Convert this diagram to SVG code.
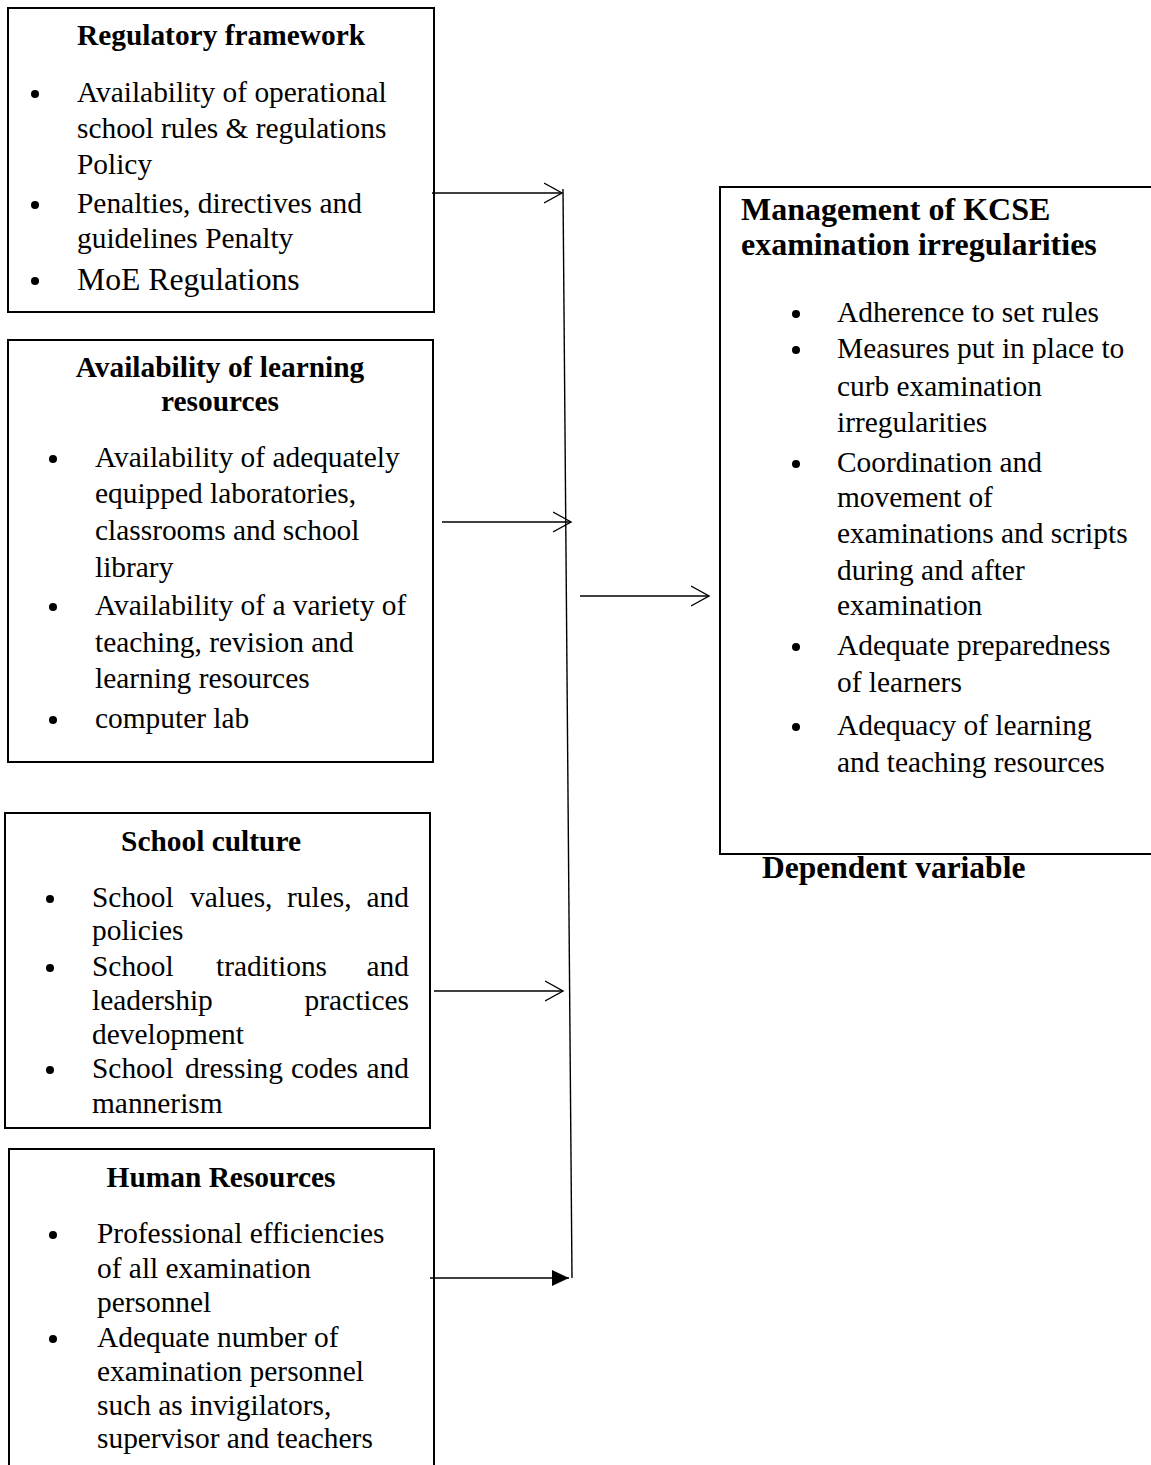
<svg xmlns="http://www.w3.org/2000/svg" width="1151" height="1465" viewBox="0 0 1151 1465">
<style>
.box{fill:#fff;stroke:#000;stroke-width:2}
.t{font-family:"Liberation Serif","Times New Roman",serif;font-size:29.4px;fill:#000}
.h{font-family:"Liberation Serif","Times New Roman",serif;font-size:29.4px;font-weight:bold;fill:#000}
.hb{font-family:"Liberation Serif","Times New Roman",serif;font-size:32px;font-weight:bold;fill:#000}
.c{text-anchor:middle}
.e{text-anchor:end}
.b{fill:#000}
.ln{stroke:#000;stroke-width:1.4;fill:none}
</style>
<defs>
<marker id="open" markerWidth="20" markerHeight="22" refX="18" refY="11" orient="auto" markerUnits="userSpaceOnUse">
<path d="M0,1 L18,11 L0,21" fill="none" stroke="#000" stroke-width="1.4"/>
</marker>
<marker id="solid" markerWidth="18" markerHeight="16" refX="17" refY="8" orient="auto" markerUnits="userSpaceOnUse">
<path d="M0,0 L17,8 L0,16 Z" fill="#000"/>
</marker>
</defs>
<rect width="1151" height="1465" fill="#fff"/>

<g id="regulatory-framework">
<rect class="box" x="8" y="8" width="426" height="304"/>
<text class="h c" x="221" y="45">Regulatory framework</text>
<circle class="b" cx="35" cy="94" r="4"/>
<text class="t" x="77" y="102">Availability of operational</text>
<text class="t" x="77" y="138">school rules &amp; regulations</text>
<text class="t" x="77" y="174">Policy</text>
<circle class="b" cx="35" cy="205" r="4"/>
<text class="t" x="77" y="213">Penalties, directives and</text>
<text class="t" x="77" y="248">guidelines Penalty</text>
<circle class="b" cx="35" cy="281" r="4"/>
<text class="t" x="77" y="290" style="font-size:31.7px">MoE Regulations</text>
</g>

<g id="learning-resources">
<rect class="box" x="8" y="340" width="425" height="422"/>
<text class="h c" x="220" y="377">Availability of learning</text>
<text class="h c" x="220" y="411">resources</text>
<circle class="b" cx="53" cy="459" r="4"/>
<text class="t" x="95" y="467">Availability of adequately</text>
<text class="t" x="95" y="503">equipped laboratories,</text>
<text class="t" x="95" y="540">classrooms and school</text>
<text class="t" x="95" y="577">library</text>
<circle class="b" cx="53" cy="607" r="4"/>
<text class="t" x="95" y="615">Availability of a variety of</text>
<text class="t" x="95" y="652">teaching, revision and</text>
<text class="t" x="95" y="688">learning resources</text>
<circle class="b" cx="53" cy="720" r="4"/>
<text class="t" x="95" y="728">computer lab</text>
</g>

<g id="school-culture">
<rect class="box" x="5" y="813" width="425" height="315"/>
<text class="h c" x="211" y="851">School culture</text>
<circle class="b" cx="50" cy="899" r="4"/>
<text class="t" x="92" y="907">School</text>
<text class="t" x="190" y="907">values,</text>
<text class="t" x="287" y="907">rules,</text>
<text class="t e" x="409" y="907">and</text>
<text class="t" x="92" y="940">policies</text>
<circle class="b" cx="50" cy="968" r="4"/>
<text class="t" x="92" y="976">School</text>
<text class="t" x="216" y="976">traditions</text>
<text class="t e" x="409" y="976">and</text>
<text class="t" x="92" y="1010">leadership</text>
<text class="t e" x="409" y="1010">practices</text>
<text class="t" x="92" y="1044">development</text>
<circle class="b" cx="50" cy="1070" r="4"/>
<text class="t" x="92" y="1078">School</text>
<text class="t" x="185" y="1078">dressing</text>
<text class="t" x="291" y="1078">codes</text>
<text class="t e" x="409" y="1078">and</text>
<text class="t" x="92" y="1113">mannerism</text>
</g>

<g id="human-resources">
<rect class="box" x="9" y="1149" width="425" height="330"/>
<text class="h c" x="221" y="1187">Human Resources</text>
<circle class="b" cx="53" cy="1235" r="4"/>
<text class="t" x="97" y="1243">Professional efficiencies</text>
<text class="t" x="97" y="1278">of all examination</text>
<text class="t" x="97" y="1312">personnel</text>
<circle class="b" cx="53" cy="1339" r="4"/>
<text class="t" x="97" y="1347">Adequate number of</text>
<text class="t" x="97" y="1381">examination personnel</text>
<text class="t" x="97" y="1415">such as invigilators,</text>
<text class="t" x="97" y="1448">supervisor and teachers</text>
</g>

<g id="management-kcse">
<rect class="box" x="720" y="187" width="440" height="667"/>
<text class="hb" x="741" y="220">Management of KCSE</text>
<text class="hb" x="741" y="255">examination irregularities</text>
<circle class="b" cx="796" cy="314" r="4"/>
<text class="t" x="837" y="322">Adherence to set rules</text>
<circle class="b" cx="796" cy="350" r="4"/>
<text class="t" x="837" y="358">Measures put in place to</text>
<text class="t" x="837" y="396">curb examination</text>
<text class="t" x="837" y="432">irregularities</text>
<circle class="b" cx="796" cy="464" r="4"/>
<text class="t" x="837" y="472">Coordination and</text>
<text class="t" x="837" y="507">movement of</text>
<text class="t" x="837" y="543">examinations and scripts</text>
<text class="t" x="837" y="580">during and after</text>
<text class="t" x="837" y="615">examination</text>
<circle class="b" cx="796" cy="647" r="4"/>
<text class="t" x="837" y="655">Adequate preparedness</text>
<text class="t" x="837" y="692">of learners</text>
<circle class="b" cx="796" cy="727" r="4"/>
<text class="t" x="837" y="735">Adequacy of learning</text>
<text class="t" x="837" y="772">and teaching resources</text>
</g>

<g id="dependent-label">
<text class="hb" x="762" y="878" style="font-size:31.5px">Dependent variable</text>
</g>

<g id="connectors">
<line class="ln" x1="563" y1="189" x2="572" y2="1278"/>
<line class="ln" x1="432" y1="193" x2="562" y2="193" marker-end="url(#open)"/>
<line class="ln" x1="442" y1="522" x2="571" y2="522" marker-end="url(#open)"/>
<line class="ln" x1="434" y1="991" x2="563" y2="991" marker-end="url(#open)"/>
<line class="ln" x1="580" y1="596" x2="709" y2="596" marker-end="url(#open)"/>
<line class="ln" x1="430" y1="1278" x2="569" y2="1278" marker-end="url(#solid)"/>
</g>
</svg>
